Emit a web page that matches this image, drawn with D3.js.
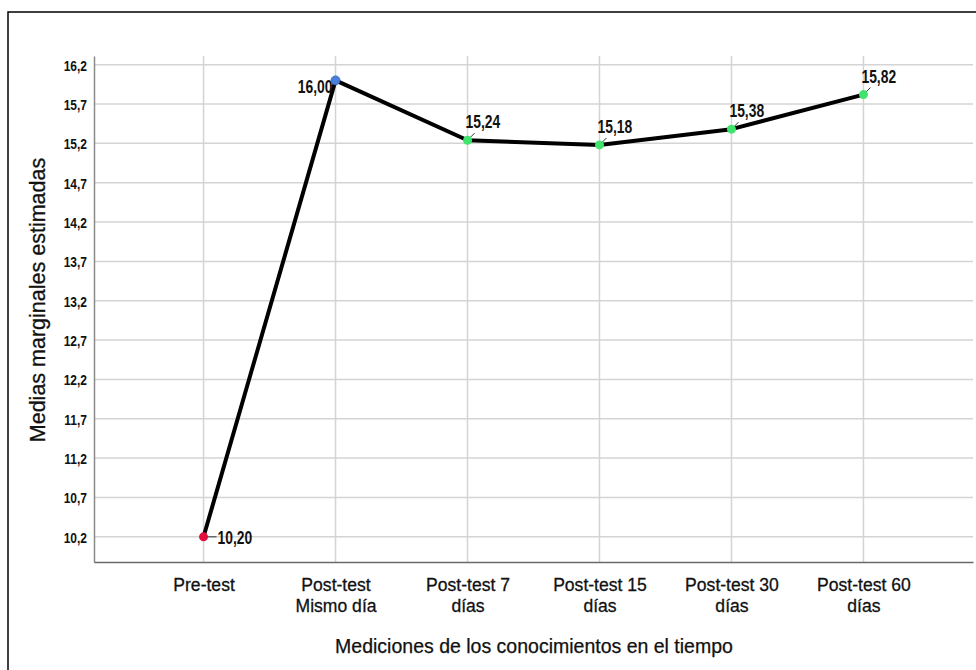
<!DOCTYPE html>
<html><head><meta charset="utf-8">
<script src="https://cdn.jsdelivr.net/npm/d3@7"></script>
<style>body{margin:0;background:#fff}</style>
</head><body>
<svg id="c" width="976" height="670"></svg>
<script>
const categories = [["Pre-test"],["Post-test","Mismo día"],["Post-test 7","días"],["Post-test 15","días"],["Post-test 30","días"],["Post-test 60","días"]];
const values = [10.20, 16.00, 15.24, 15.18, 15.38, 15.82];
const labels = ["10,20","16,00","15,24","15,18","15,38","15,82"];
const pointColors = ["#e2103c","#4a80dc","#3ee46c","#3ee46c","#3ee46c","#3ee46c"];
const yTicks = [10.2,10.7,11.2,11.7,12.2,12.7,13.2,13.7,14.2,14.7,15.2,15.7,16.2];
const yTitle = "Medias marginales estimadas";
const xTitle = "Mediciones de los conocimientos en el tiempo";

const svg = d3.select("#c");
const L=94, R=973, T=56, B=562;
const sans = "'Liberation Sans',Arial,sans-serif";
const SX = 0.8;

svg.append("rect").attr("x",8).attr("y",12).attr("width",1000).attr("height",700)
  .attr("fill","none").attr("stroke","#000").attr("stroke-width",1.5);

const idx = d3.range(categories.length);
const x = d3.scalePoint().domain(idx).range([L,R]).padding(0.83);
const y = d3.scaleLinear().domain([9.88,16.31]).range([B,T]);

// gridlines
svg.append("g").selectAll("line").data(yTicks).join("line")
  .attr("x1",L).attr("x2",R).attr("y1",d=>y(d)).attr("y2",d=>y(d))
  .attr("stroke","#d4d4d4").attr("stroke-width",1.5);
svg.append("g").selectAll("line").data(idx).join("line")
  .attr("x1",d=>x(d)).attr("x2",d=>x(d)).attr("y1",T).attr("y2",B)
  .attr("stroke","#d4d4d4").attr("stroke-width",1.5);

// axes
const ya = svg.append("g").attr("transform",`translate(${L},0)`)
  .call(d3.axisLeft(y).tickValues(yTicks).tickSize(0).tickPadding(7).tickFormat(d=>d3.format(".1f")(d).replace(".",",")));
ya.select(".domain").attr("stroke","#8a8a8a").attr("stroke-width",1.5);
ya.selectAll("text").attr("font-family",sans).attr("font-weight","bold").attr("font-size",15).attr("fill","#111")
  .attr("x",-7/SX).attr("dy","0.36em").attr("transform",`scale(${SX},1)`);

const xa = svg.append("g").attr("transform",`translate(0,${B})`)
  .call(d3.axisBottom(x).tickSize(0).tickFormat(""));
xa.select(".domain").attr("stroke","#6a6a6a").attr("stroke-width",1.5);
xa.selectAll(".tick").each(function(d){
  const t=d3.select(this).append("text").attr("fill","#111").attr("font-family",sans)
    .attr("font-size",18.5).attr("text-anchor","middle").attr("transform","scale(0.95,1)")
    .attr("stroke","#111").attr("stroke-width",0.3);
  categories[d].forEach((s,i)=>t.append("tspan").attr("x",0).attr("y",29+i*21.5).text(s));
});

// line
svg.append("path").datum(idx)
  .attr("d",d3.line().x(d=>x(d)).y(d=>y(values[d])))
  .attr("fill","none").attr("stroke","#000").attr("stroke-width",4).attr("stroke-linejoin","round");

// leader lines + labels
const lab = svg.append("g");
function label(px,py,txt,anchor){
  lab.append("text").attr("transform",`translate(${px},${py}) scale(0.77,1)`)
    .attr("text-anchor",anchor).attr("font-family",sans).attr("font-weight","bold")
    .attr("font-size",18).attr("fill","#111").text(txt);
}
idx.forEach(d=>{
  const px=x(d), py=y(values[d]);
  if(d===0){
    lab.append("line").attr("x1",px).attr("y1",py).attr("x2",px+13).attr("y2",py).attr("stroke","#333").attr("stroke-width",1);
    label(px+14,py+7,labels[d],"start");
  } else if(d===1){
    label(px-3,py+13,labels[d],"end");
  } else {
    lab.append("line").attr("x1",px).attr("y1",py).attr("x2",px+7).attr("y2",py-7).attr("stroke","#333").attr("stroke-width",1);
    label(px-2,py-12,labels[d],"start");
  }
});

// points
svg.append("g").selectAll("circle").data(idx).join("circle")
  .attr("cx",d=>x(d)).attr("cy",d=>y(values[d])).attr("r",4.5)
  .attr("fill",d=>pointColors[d]).attr("stroke",d=>d===1?"#2b5fb8":"none").attr("stroke-width",0.8);

// titles
svg.append("text").attr("transform",`translate(45,300) rotate(-90)`)
  .attr("text-anchor","middle").attr("font-family",sans).attr("font-size",21.5).attr("fill","#111")
  .attr("stroke","#111").attr("stroke-width",0.3).text(yTitle);
svg.append("text").attr("x",534).attr("y",653).attr("text-anchor","middle")
  .attr("font-family",sans).attr("font-size",19.5).attr("fill","#111")
  .attr("stroke","#111").attr("stroke-width",0.25).text(xTitle);
</script>
</body></html>
